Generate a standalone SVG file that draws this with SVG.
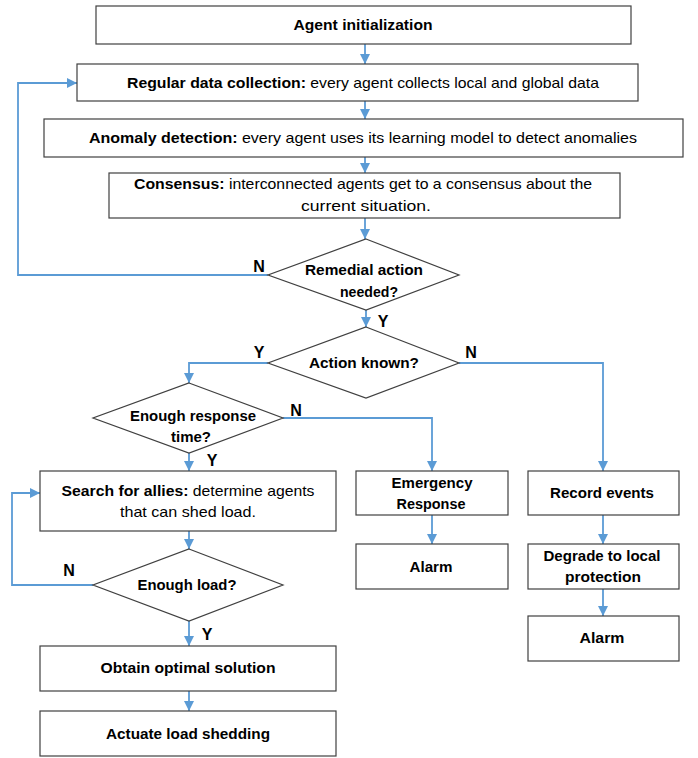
<svg xmlns="http://www.w3.org/2000/svg" width="698" height="758" viewBox="0 0 698 758">
<style>
.box{fill:#fff;stroke:#404040;stroke-width:1.2}
.t{font-family:"Liberation Sans",Arial,sans-serif;font-size:15px;fill:#000;text-anchor:middle}
.b{font-weight:bold}
.lbl{font-family:"Liberation Sans",Arial,sans-serif;font-size:16px;font-weight:bold;fill:#000;text-anchor:middle}
.c{fill:none;stroke:#5B9BD5;stroke-width:1.8;marker-end:url(#ah)}
</style>
<defs>
<marker id="ah" markerUnits="userSpaceOnUse" markerWidth="10" markerHeight="10" refX="10" refY="5" orient="auto">
<path d="M0,0 L10,5 L0,10 z" fill="#5B9BD5"/>
</marker>
</defs>
<rect width="698" height="758" fill="#fff"/>
<g id="connectors">
<path class="c" d="M365,44 V64"/>
<path class="c" d="M365,101 V119"/>
<path class="c" d="M365,157 V173"/>
<path class="c" d="M365,218 V239"/>
<path class="c" d="M268,275 H18 V83 H77"/>
<path class="c" d="M366,310 V327"/>
<path class="c" d="M268,363 H189 V383"/>
<path class="c" d="M459,363 H603 V471"/>
<path class="c" d="M189,453 V471"/>
<path class="c" d="M283,418 H432 V471"/>
<path class="c" d="M432,515 V544"/>
<path class="c" d="M603,515 V544"/>
<path class="c" d="M603,589 V616"/>
<path class="c" d="M189,531 V549"/>
<path class="c" d="M93,585 H12 V493 H40"/>
<path class="c" d="M189,621 V646"/>
<path class="c" d="M189,691 V711"/>
</g>
<g id="labels">
<text class="lbl" x="259" y="272">N</text>
<text class="lbl" x="383" y="327">Y</text>
<text class="lbl" x="259" y="358">Y</text>
<text class="lbl" x="471" y="358">N</text>
<text class="lbl" x="296" y="416">N</text>
<text class="lbl" x="212" y="466">Y</text>
<text class="lbl" x="69" y="576">N</text>
<text class="lbl" x="207" y="640">Y</text>
</g>
<g id="init">
<rect class="box" x="96" y="6" width="535" height="38"/>
<text class="t b" x="363" y="30" textLength="139" lengthAdjust="spacingAndGlyphs">Agent initialization</text>
</g>
<g id="collect">
<rect class="box" x="77" y="64" width="561" height="37"/>
<text class="t" x="363" y="88" textLength="472" lengthAdjust="spacingAndGlyphs"><tspan class="b">Regular data collection:</tspan> every agent collects local and global data</text>
</g>
<g id="anomaly">
<rect class="box" x="44" y="119" width="639" height="38"/>
<text class="t" x="363" y="143" textLength="548" lengthAdjust="spacingAndGlyphs"><tspan class="b">Anomaly detection:</tspan> every agent uses its learning model to detect anomalies</text>
</g>
<g id="consensus">
<rect class="box" x="109" y="173" width="511" height="45"/>
<text class="t" x="363" y="189" textLength="458" lengthAdjust="spacingAndGlyphs"><tspan class="b">Consensus:</tspan> interconnected agents get to a consensus about the</text>
<text class="t" x="366" y="211" textLength="130" lengthAdjust="spacingAndGlyphs">current situation.</text>
</g>
<g id="remedial">
<polygon class="box" points="366,239 459,275 366,310 268,275"/>
<text class="t b" x="364" y="275" textLength="118" lengthAdjust="spacingAndGlyphs">Remedial action</text>
<text class="t b" x="369" y="297" textLength="58" lengthAdjust="spacingAndGlyphs">needed?</text>
</g>
<g id="known">
<polygon class="box" points="366,327 459,363 366,398 268,363"/>
<text class="t b" x="364" y="368" textLength="110" lengthAdjust="spacingAndGlyphs">Action known?</text>
</g>
<g id="resptime">
<polygon class="box" points="189,383 283,418 189,453 93,418"/>
<text class="t b" x="193" y="421" textLength="126" lengthAdjust="spacingAndGlyphs">Enough response</text>
<text class="t b" x="191" y="442" textLength="40" lengthAdjust="spacingAndGlyphs">time?</text>
</g>
<g id="search">
<rect class="box" x="40" y="471" width="296" height="60"/>
<text class="t" x="188" y="496" textLength="253" lengthAdjust="spacingAndGlyphs"><tspan class="b">Search for allies:</tspan> determine agents</text>
<text class="t" x="188" y="517" textLength="136" lengthAdjust="spacingAndGlyphs">that can shed load.</text>
</g>
<g id="emergency">
<rect class="box" x="356" y="471" width="152" height="44"/>
<text class="t b" x="432" y="488" textLength="81" lengthAdjust="spacingAndGlyphs">Emergency</text>
<text class="t b" x="431" y="509" textLength="69" lengthAdjust="spacingAndGlyphs">Response</text>
</g>
<g id="record">
<rect class="box" x="528" y="471" width="151" height="44"/>
<text class="t b" x="602" y="498" textLength="104" lengthAdjust="spacingAndGlyphs">Record events</text>
</g>
<g id="alarm1">
<rect class="box" x="356" y="544" width="152" height="45"/>
<text class="t b" x="431" y="572" textLength="43" lengthAdjust="spacingAndGlyphs">Alarm</text>
</g>
<g id="degrade">
<rect class="box" x="528" y="544" width="151" height="45"/>
<text class="t b" x="602" y="561" textLength="117" lengthAdjust="spacingAndGlyphs">Degrade to local</text>
<text class="t b" x="603" y="582" textLength="76" lengthAdjust="spacingAndGlyphs">protection</text>
</g>
<g id="alarm2">
<rect class="box" x="528" y="616" width="151" height="45"/>
<text class="t b" x="602" y="643" textLength="45" lengthAdjust="spacingAndGlyphs">Alarm</text>
</g>
<g id="load">
<polygon class="box" points="189,549 283,585 189,621 93,585"/>
<text class="t b" x="187" y="590" textLength="99" lengthAdjust="spacingAndGlyphs">Enough load?</text>
</g>
<g id="obtain">
<rect class="box" x="40" y="646" width="296" height="45"/>
<text class="t b" x="188" y="673" textLength="175" lengthAdjust="spacingAndGlyphs">Obtain optimal solution</text>
</g>
<g id="actuate">
<rect class="box" x="40" y="711" width="296" height="45"/>
<text class="t b" x="188" y="739" textLength="164" lengthAdjust="spacingAndGlyphs">Actuate load shedding</text>
</g>
</svg>
